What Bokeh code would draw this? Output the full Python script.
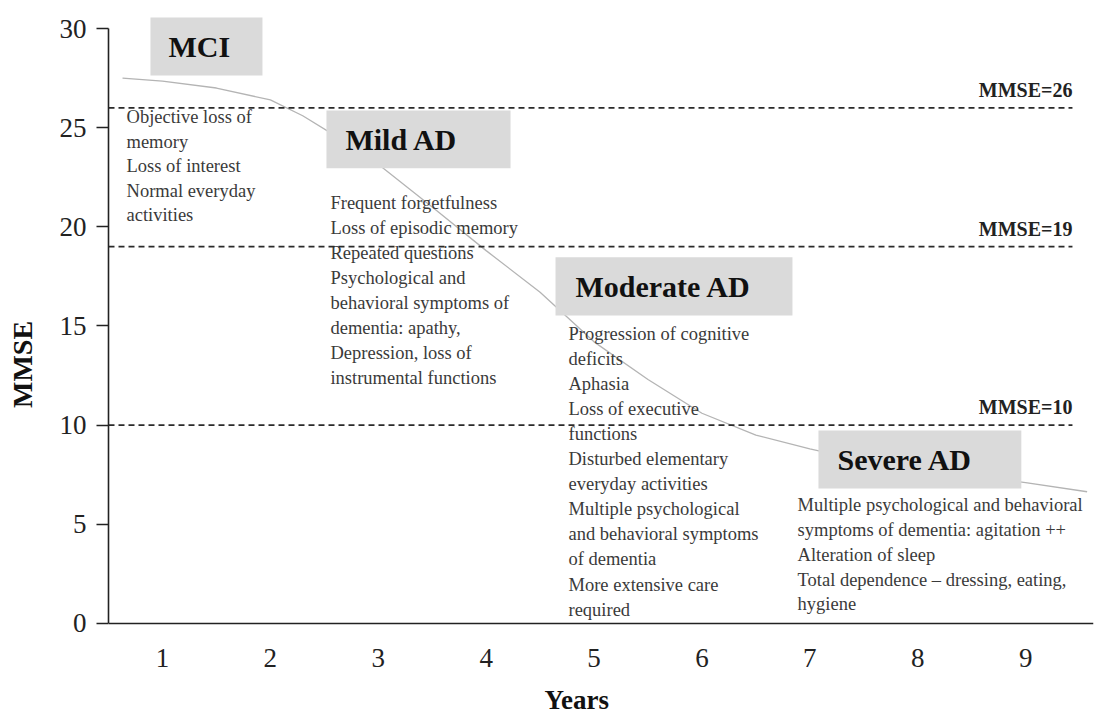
from bokeh.plotting import figure
from bokeh.models import ColumnDataSource, FixedTicker, Range1d, Label
from bokeh.core.properties import value
from bokeh.embed import file_html
from bokeh.resources import INLINE

# ---------------- data ----------------
curve_years = [0.63, 1.0, 1.5, 2.0, 2.3, 2.6, 3.0, 3.5, 4.0, 4.5, 5.0, 5.5,
               6.0, 6.5, 7.0, 7.5, 8.0, 8.5, 9.0, 9.57]
curve_mmse = [27.5, 27.35, 27.0, 26.4, 25.6, 24.6, 23.15, 21.0, 18.8, 16.7,
              14.2, 12.3, 10.6, 9.5, 8.8, 8.2, 7.8, 7.45, 7.1, 6.64]

thresholds = [26, 19, 10]
threshold_labels = ["MMSE=26", "MMSE=19", "MMSE=10"]

stages = ["MCI", "Mild AD", "Moderate AD", "Severe AD"]
stage_symptoms = [
    ["Objective loss of", "memory", "Loss of interest", "Normal everyday",
     "activities"],
    ["Frequent forgetfulness", "Loss of episodic memory", "Repeated questions",
     "Psychological and", "behavioral symptoms of", "dementia: apathy,",
     "Depression, loss of", "instrumental functions"],
    ["Progression of cognitive", "deficits", "Aphasia", "Loss of executive",
     "functions", "Disturbed elementary", "everyday activities",
     "Multiple psychological", "and behavioral symptoms", "of dementia",
     "More extensive care", "required"],
    ["Multiple psychological and behavioral",
     "symptoms of dementia: agitation ++", "Alteration of sleep",
     "Total dependence \u2013 dressing, eating,", "hygiene"],
]

x_ticks = [1, 2, 3, 4, 5, 6, 7, 8, 9]
y_ticks = [0, 5, 10, 15, 20, 25, 30]
x_label = "Years"
y_label = "MMSE"

# ---------------- layout (positions of annotation boxes, data units) ----------------
box_left = [0.889, 2.52, 4.643, 7.08]
box_right = [1.927, 4.226, 6.839, 8.96]
box_bottom = [27.63, 22.95, 15.53, 6.81]
box_top = [30.56, 25.87, 18.46, 9.73]
title_x = [1.056, 2.696, 4.828, 7.256]
text_x = [0.667, 2.557, 4.763, 6.886]
text_y0 = [25.52, 21.18, 14.62, 5.95]
text_step = [24.5, 25.0, 25.1, 24.75]

SERIF = "Liberation Serif"

p = figure(width=1096, height=720, output_backend="svg", toolbar_location=None,
           x_range=Range1d(0.5, 9.629), y_range=Range1d(-4.895, 31.01),
           min_border_left=108, min_border_right=3, min_border_top=8,
           min_border_bottom=0)
p.outline_line_color = None
p.xgrid.visible = False
p.ygrid.visible = False
p.background_fill_color = "white"
p.border_fill_color = "white"

# curve
p.line(curve_years, curve_mmse, line_color="#b4b4b4", line_width=1.3)

# stage boxes
p.quad(left=box_left, right=box_right, bottom=box_bottom, top=box_top,
       fill_color="#dadada", line_color=None)

# stage titles
p.text(x=title_x, y=[(b + t) / 2 for b, t in zip(box_bottom, box_top)],
       text=stages, text_font=value(SERIF), text_font_style="bold",
       text_font_size="30px", text_color="#111111", text_baseline="middle",
       text_align="left")

# symptom texts
xs, ys, txt, offs = [], [], [], []
for i, lines in enumerate(stage_symptoms):
    for j, ln in enumerate(lines):
        xs.append(text_x[i])
        ys.append(text_y0[i])
        txt.append(ln)
        offs.append(j * text_step[i])
src = ColumnDataSource(dict(x=xs, y=ys, text=txt, yoff=offs))
p.text(x="x", y="y", text="text", y_offset="yoff", source=src,
       text_font=value(SERIF), text_font_size="18.5px", text_color="#3a3a3a",
       text_baseline="middle", text_align="left")

# threshold dashed lines
p.segment(x0=[0.5] * len(thresholds), x1=[9.434] * len(thresholds),
          y0=thresholds, y1=thresholds, line_color="#2a2a2a", line_width=1.7,
          line_dash="6 4")
p.text(x=[9.434] * len(thresholds), y=thresholds, text=threshold_labels,
       y_offset=-18, text_font=value(SERIF), text_font_style="bold",
       text_font_size="20px", text_color="#222222", text_align="right",
       text_baseline="middle")

# axes
for ax in (p.xaxis[0], p.yaxis[0]):
    ax.axis_line_color = "#222222"
    ax.axis_line_width = 1.6
    ax.major_tick_line_color = "#222222"
    ax.major_tick_line_width = 1.6
    ax.minor_tick_line_color = None
    ax.major_label_text_font = SERIF
    ax.major_label_text_font_size = "27px"
    ax.major_label_text_color = "#222222"
    ax.axis_label_text_font = SERIF
    ax.axis_label_text_font_style = "bold"
    ax.axis_label_text_color = "#111111"

p.xaxis.ticker = FixedTicker(ticks=x_ticks)
p.xaxis.bounds = (0.5, 9.629)
p.xaxis.fixed_location = 0
p.xaxis.major_tick_out = 0
p.xaxis.major_tick_in = 0
p.xaxis.major_label_standoff = 26

# x-axis title placed as a label below the tick labels
p.add_layout(Label(x=4.84, y=-3.85, text=x_label, text_font=SERIF,
                   text_font_style="bold", text_font_size="27px",
                   text_color="#111111", text_align="center",
                   text_baseline="middle"))

p.yaxis.ticker = FixedTicker(ticks=y_ticks)
p.yaxis.bounds = (0, 30)
p.yaxis.major_tick_out = 12
p.yaxis.major_tick_in = 0
p.yaxis.major_label_standoff = 10
p.yaxis.axis_label = y_label
p.yaxis.axis_label_text_font_size = "28px"
p.yaxis.axis_label_standoff = 19

open("out.html", "w").write(file_html(p, INLINE))
